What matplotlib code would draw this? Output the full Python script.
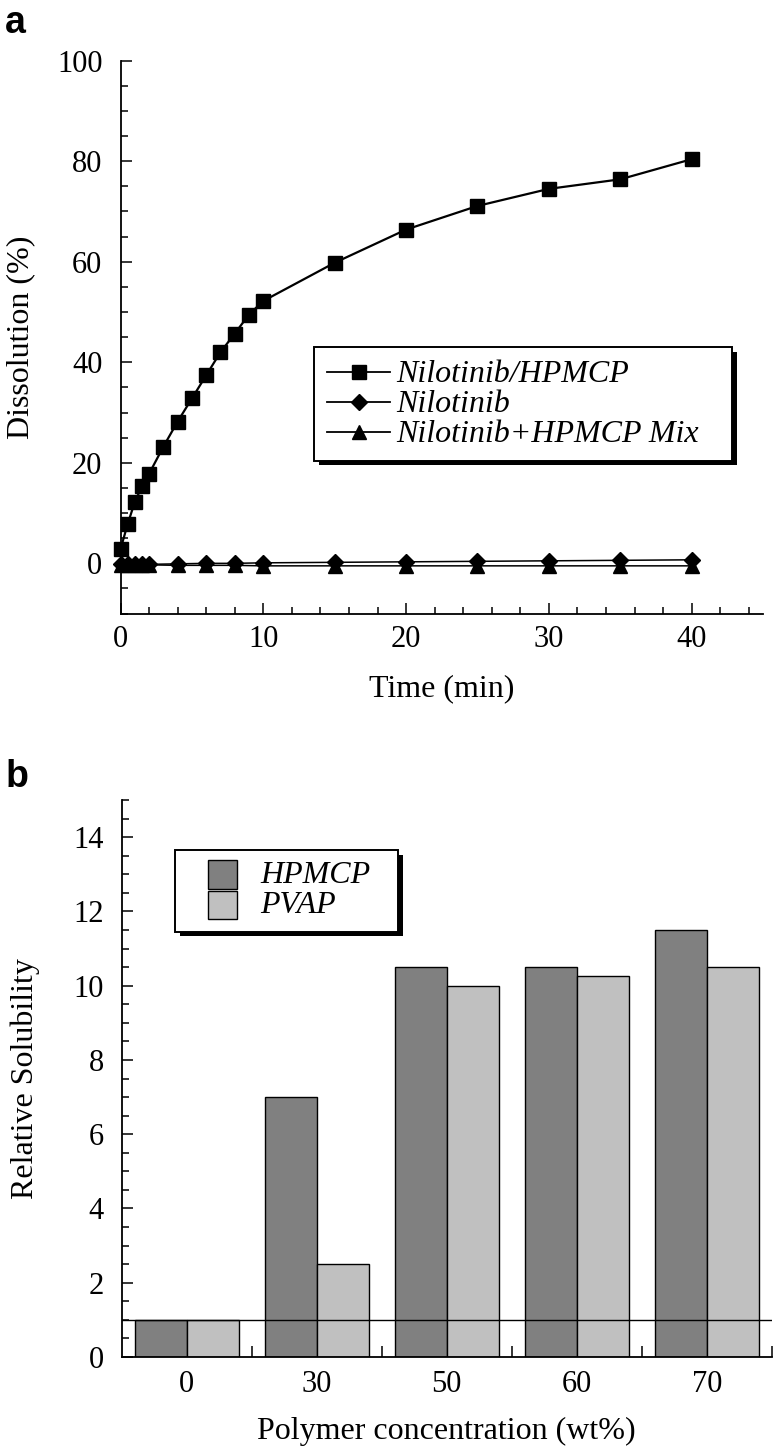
import matplotlib
matplotlib.use('Agg')
import numpy as np
import matplotlib.pyplot as plt
from matplotlib.patches import Rectangle
from matplotlib.lines import Line2D
from matplotlib.ticker import MultipleLocator, FixedLocator, NullFormatter

plt.rcParams['font.family'] = ['Liberation Serif', 'DejaVu Serif']

# panel a: dissolution vs time
time_hpmcp = [0, 0.5, 1, 1.5, 2, 3, 4, 5, 6, 7, 8, 9, 10, 15, 20, 25, 30, 35, 40]
diss_hpmcp = [2.8, 7.8, 12.2, 15.3, 17.8, 23.2, 28.2, 32.8, 37.4, 42.0, 45.7,
              49.5, 52.2, 59.8, 66.4, 71.1, 74.5, 76.4, 80.4]
time_other = [0, 0.5, 1, 1.5, 2, 4, 6, 8, 10, 15, 20, 25, 30, 35, 40]
diss_nilotinib = [-0.2, -0.2, -0.2, -0.2, -0.2, -0.1, 0.0, 0.0, 0.1, 0.2,
                  0.3, 0.4, 0.5, 0.6, 0.7]
diss_mix = [-0.3, -0.3, -0.3, -0.3, -0.3, -0.4, -0.4, -0.4, -0.5, -0.5,
            -0.5, -0.5, -0.5, -0.5, -0.5]
labels_a = ['Nilotinib/HPMCP', 'Nilotinib', 'Nilotinib+HPMCP Mix']

# panel b: relative solubility
polymer_conc = ['0', '30', '50', '60', '70']
sol_hpmcp = [1.0, 7.0, 10.5, 10.5, 11.5]
sol_pvap = [1.0, 2.5, 10.0, 10.25, 10.5]
labels_b = ['HPMCP', 'PVAP']

W, H = 773, 1455
fig = plt.figure(figsize=(W / 100, H / 100), dpi=100)


def fx(x):
    return x / W


def fy(y):
    return 1 - y / H


def legend_box(x0, y0, x1, y1, sh=4.5):
    fig.add_artist(Rectangle((fx(x0 + sh), fy(y1 + sh)), fx(x1 - x0), (y1 - y0) / H,
                             transform=fig.transFigure, facecolor='black', edgecolor='none'))
    fig.add_artist(Rectangle((fx(x0), fy(y1)), fx(x1 - x0), (y1 - y0) / H,
                             transform=fig.transFigure, facecolor='white', edgecolor='black',
                             linewidth=1.4))


tick_size = 22
label_size = 23
legend_size = 23

# ---------------- panel a
ax1 = fig.add_axes([fx(120.5), fy(613.6), fx(642.5), 552.9 / H])
ax1.plot(time_hpmcp, diss_hpmcp, '-s', color='black', ms=10.5, lw=1.6, clip_on=False, zorder=4)
ax1.plot(time_other, diss_nilotinib, '-D', color='black', ms=8.5, lw=1.1, clip_on=False, zorder=3)
ax1.plot(time_other, diss_mix, '-^', color='black', ms=10, lw=1.1, clip_on=False, zorder=3)
ax1.set_xlim(0, 45)
ax1.set_ylim(-10, 100)
ax1.xaxis.set_major_locator(MultipleLocator(10))
ax1.xaxis.set_minor_locator(MultipleLocator(2))
ax1.yaxis.set_major_locator(MultipleLocator(20))
ax1.yaxis.set_minor_locator(MultipleLocator(5))
ax1.set_xlabel('Time (min)', fontsize=label_size)
ax1.set_ylabel('Dissolution (%)', fontsize=label_size)
ax1.xaxis.set_label_coords(0.5, -0.11)
ax1.yaxis.set_label_coords(-0.133, 0.5)

# ---------------- panel b
ax2 = fig.add_axes([fx(121.7), fy(1357), fx(650), 557 / H])
x = np.arange(len(polymer_conc))
ax2.bar(x - 0.2, sol_hpmcp, width=0.4, color='#808080', edgecolor='black', lw=1.0, zorder=2)
ax2.bar(x + 0.2, sol_pvap, width=0.4, color='#c0c0c0', edgecolor='black', lw=1.0, zorder=2)
ax2.axhline(1, color='black', lw=1.0, zorder=3)
ax2.set_xlim(-0.5, 4.5)
ax2.set_ylim(0, 15)
ax2.xaxis.set_major_locator(FixedLocator(x + 0.5))
ax2.xaxis.set_major_formatter(NullFormatter())
ax2.xaxis.set_minor_locator(FixedLocator(np.concatenate([x - 0.3, x - 0.1, x + 0.1, x + 0.3])))
ax2.yaxis.set_major_locator(MultipleLocator(2))
ax2.yaxis.set_minor_locator(MultipleLocator(0.5))
ax2.set_xlabel('Polymer concentration (wt%)', fontsize=label_size)
ax2.set_ylabel('Relative Solubility', fontsize=label_size)
ax2.xaxis.set_label_coords(0.5, -0.108)
ax2.yaxis.set_label_coords(-0.125, 0.5)

sec = ax2.secondary_xaxis('bottom')
sec.set_xticks(x, labels=polymer_conc)
sec.tick_params(length=0, pad=9, labelsize=tick_size)
sec.spines['bottom'].set_visible(False)

for ax in (ax1, ax2):
    for s in ('top', 'right'):
        ax.spines[s].set_visible(False)
    for s in ('left', 'bottom'):
        ax.spines[s].set_linewidth(1.3)
    ax.tick_params(which='both', direction='in', width=1.1, labelsize=tick_size)
    ax.tick_params(which='major', length=8)
    ax.tick_params(which='minor', length=5)
    ax.tick_params(axis='x', pad=8.5)
    ax.tick_params(axis='y', pad=13)

# legend for panel a
legend_box(314, 347.3, 732, 460.7)
markers = ['s', 'D', '^']
msizes = [10.5, 8.5, 10]
for i, (lab, mk, ms) in enumerate(zip(labels_a, markers, msizes)):
    yc = 372.3 + 30 * i
    fig.add_artist(Line2D([fx(327), fx(390)], [fy(yc), fy(yc)], transform=fig.transFigure,
                          color='black', lw=1.3))
    fig.add_artist(Line2D([fx(358.5)], [fy(yc)], transform=fig.transFigure,
                          color='black', marker=mk, ms=ms, lw=0))
    fig.text(fx(396.7), fy(yc + 9.5), lab, fontsize=legend_size, style='italic',
             va='baseline', ha='left')

# legend for panel b
legend_box(175, 850, 398.3, 931.7)
for i, (lab, col) in enumerate(zip(labels_b, ['#808080', '#c0c0c0'])):
    top = 860 + 30.5 * i
    fig.add_artist(Rectangle((fx(207.7), fy(top + 28.5)), fx(29), 28.5 / H,
                             transform=fig.transFigure, facecolor=col, edgecolor='black', lw=1.0))
    fig.text(fx(260), fy(883.3 + 30 * i), lab, fontsize=legend_size, style='italic',
             va='baseline', ha='left')

# panel letters
fig.text(fx(5), fy(33), 'a', fontsize=27, fontweight='bold', family='Liberation Sans', va='baseline')
fig.text(fx(6), fy(787), 'b', fontsize=27, fontweight='bold', family='Liberation Sans', va='baseline')

fig.savefig('out.png', dpi=100)
